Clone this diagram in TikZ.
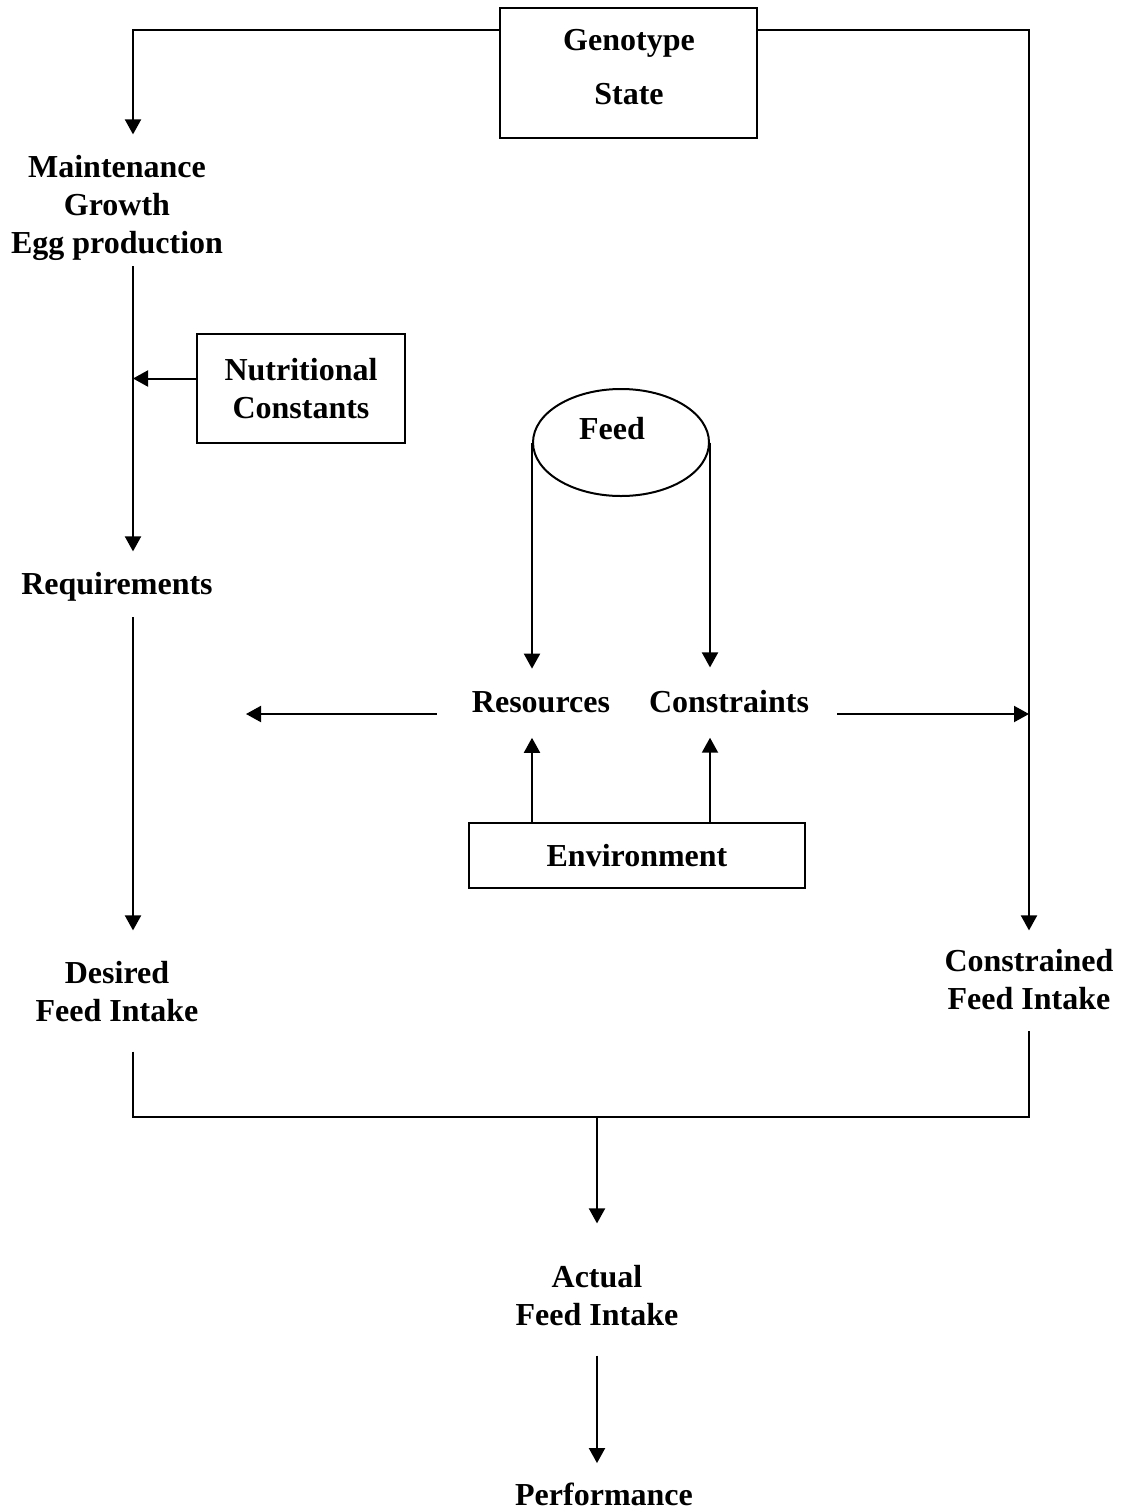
\documentclass[tikz,border=0pt]{standalone}
\usepackage{fontspec}
\setmainfont{Liberation Serif}
\usetikzlibrary{arrows.meta,shapes.geometric}
\begin{document}
\begin{tikzpicture}[x=0.5pt,y=-0.5pt,
  lbl/.style={font=\bfseries\fontsize{16}{19}\selectfont, align=center, inner sep=0pt, anchor=base},
  boxed/.style={draw, line width=1pt, inner sep=0pt, font=\bfseries\fontsize{16}{19}\selectfont, align=center},
  arr/.style={-{Triangle[width=8pt,length=7.5pt]}, line width=1pt},
  ln/.style={line width=1pt}]
\useasboundingbox (0,0) rectangle (1125,1510);
% helper coordinates
\coordinate (topline) at (0,30);
\coordinate (leftx) at (133,0);
\coordinate (rightx) at (1029,0);
\coordinate (hline) at (0,714);
\coordinate (join) at (597,1117);
\coordinate (lend) at (246,714);
% nodes (base anchor of a multi-line node = baseline of its last line)
\node[boxed, minimum width=128.5pt, minimum height=65pt] (geno) at (628.5,73) {};
\node[lbl] (genotxt) at (629,104) {Genotype\\[8pt]State};
\node[lbl] (maint) at (117,253) {Maintenance\\Growth\\Egg production};
\node[boxed, minimum width=104pt, minimum height=54.5pt] (nut) at (301,388.5) {Nutritional\\Constants};
\node[lbl] (req) at (117,594) {Requirements};
\node[draw, ellipse, line width=1pt, minimum width=88pt, minimum height=53.5pt, inner sep=0pt] (feed) at (621,442.5) {};
\node[lbl] (feedtxt) at (612,439) {Feed};
\node[lbl] (res) at (541,712) {Resources};
\node[lbl] (con) at (729,712) {Constraints};
\node[boxed, minimum width=168pt, minimum height=32.5pt] (env) at (637,855.5) {Environment};
\node[lbl] (dfi) at (117,1021) {Desired\\Feed Intake};
\node[lbl] (cfi) at (1029,1009) {Constrained\\Feed Intake};
\node[lbl] (afi) at (597,1325) {Actual\\Feed Intake};
\node[lbl] (perf) at (604,1505) {Performance};
% connectors
\draw[arr] (geno.west |- topline) -| ([yshift=10pt]maint.north -| leftx);
\draw[arr] (geno.east |- topline) -| ([yshift=9pt]cfi.north -| rightx);
\draw[arr] ([yshift=-3pt]maint.south -| leftx) -- ([yshift=10pt]req.north -| leftx);
\draw[arr] ([yshift=5pt]nut.west) -- ([yshift=5pt]nut.west -| leftx);
\draw[arr] ([yshift=-8pt]req.south -| leftx) -- ([yshift=15pt]dfi.north -| leftx);
\draw[arr, shorten >=11pt] (feed.west) -- (feed.west |- res.north);
\draw[arr, shorten >=11pt] (feed.east) -- (feed.east |- con.north);
\draw[arr, shorten >=12.5pt] (env.north -| feed.west) -- (feed.west |- res.south);
\draw[arr, shorten >=12.5pt] (env.north -| feed.east) -- (feed.east |- con.south);
\draw[arr] ([xshift=-17.5pt]res.base west |- hline) -- (lend);
\draw[arr] ([xshift=14pt]con.base east |- hline) -- (rightx |- hline);
\draw[ln] ([yshift=-15pt]dfi.south -| leftx) -- (join -| leftx) -- (join -| rightx) -- ([yshift=-10.5pt]cfi.south -| rightx);
\draw[arr] (join) -- ([yshift=20.5pt]afi.north);
\draw[arr] ([yshift=-15pt]afi.south) -- ([yshift=9.5pt]afi.south |- perf.north);
\end{tikzpicture}
\end{document}
